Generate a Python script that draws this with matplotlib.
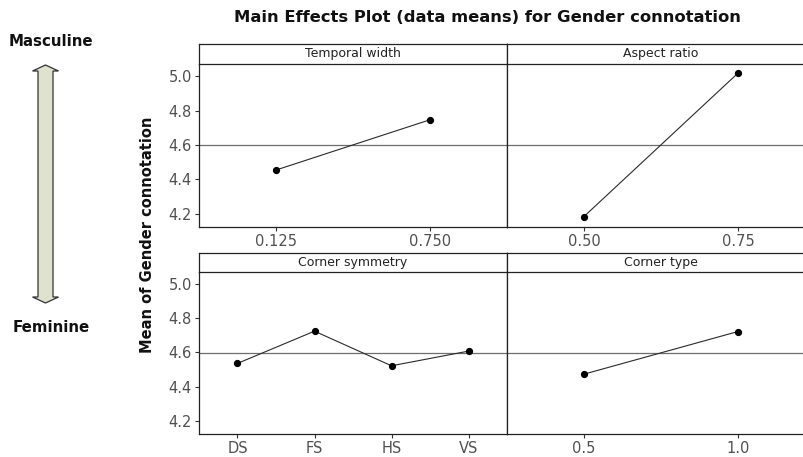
import matplotlib
matplotlib.use('Agg')
import matplotlib.pyplot as plt
from matplotlib.patches import Polygon

# data means
tw_levels = ['0.125', '0.750']
tw_means = [4.454, 4.747]
ar_levels = ['0.50', '0.75']
ar_means = [4.183, 5.019]
cs_levels = ['DS', 'FS', 'HS', 'VS']
cs_means = [4.536, 4.725, 4.522, 4.608]
ct_levels = ['0.5', '1.0']
ct_means = [4.473, 4.723]
grand_mean = 4.598

panels = [
    ('Temporal width', tw_levels, tw_means),
    ('Aspect ratio', ar_levels, ar_means),
    ('Corner symmetry', cs_levels, cs_means),
    ('Corner type', ct_levels, ct_means),
]

W, H = 804, 457
fig = plt.figure(figsize=(W / 100, H / 100), dpi=100)
fig.patch.set_facecolor('white')


def fx(px):
    return px / W


def fy(py):
    return 1 - py / H


# panel geometry in pixels: (top of strip, top of plot, bottom)
rows = [(44, 64, 227), (253, 272, 434)]
cols = [199, 507]
pw = 308
ylim = (4.122, 5.072)

for i, (name, levels, means) in enumerate(panels):
    r, c = divmod(i, 2)
    st, pt, pb = rows[r]
    left = cols[c]
    ax = fig.add_axes([fx(left), fy(pb), fx(pw), (pb - pt) / H])
    xs = list(range(1, len(levels) + 1))
    ax.axhline(grand_mean, color='#6e6e6e', lw=0.9, zorder=1)
    ax.plot(xs, means, color='#2a2a2a', lw=0.8, marker='o', ms=4.2,
            mfc='black', mec='black', zorder=3)
    ax.set_xlim(0.5, len(levels) + 0.5)
    ax.set_ylim(*ylim)
    ax.set_xticks(xs)
    ax.set_xticklabels(levels)
    ax.set_yticks([4.2, 4.4, 4.6, 4.8, 5.0])
    ax.set_yticklabels(['4.2', '4.4', '4.6', '4.8', '5.0'])
    ax.tick_params(axis='both', direction='out', length=3, width=0.8,
                   color='#333333', labelcolor='#505050', labelsize=10.5, pad=2)
    if c == 1:
        ax.tick_params(axis='y', left=False, labelleft=False)
    for s in ax.spines.values():
        s.set_color('#222222')
        s.set_linewidth(0.9)
    ax.spines['top'].set_visible(False)

    # strip with factor name
    sax = fig.add_axes([fx(left), fy(pt), fx(pw), (pt - st) / H])
    sax.set_xticks([])
    sax.set_yticks([])
    for s in sax.spines.values():
        s.set_color('#222222')
        s.set_linewidth(0.9)
    sax.text(0.5, 0.5, name, transform=sax.transAxes, ha='center', va='center',
             fontsize=9, color='#222222')

fig.text(fx(487), fy(18), 'Main Effects Plot (data means) for Gender connotation',
         ha='center', va='center', fontsize=11.8, fontweight='bold', color='#111111')
fig.text(fx(148), fy(235), 'Mean of Gender connotation', rotation=90,
         ha='center', va='center', fontsize=10.5, fontweight='bold', color='#111111')

fig.text(fx(51), fy(42), 'Masculine', ha='center', va='center',
         fontsize=10.8, fontweight='bold', color='#111111')
fig.text(fx(51), fy(327), 'Feminine', ha='center', va='center',
         fontsize=10.8, fontweight='bold', color='#111111')

# double headed arrow between the two labels
cx, top, bot = 45.5, 65, 303
hw, sw, hl = 13, 7.5, 6
pts = [(cx, top), (cx + hw, top + hl), (cx + sw, top + hl), (cx + sw, bot - hl),
       (cx + hw, bot - hl), (cx, bot), (cx - hw, bot - hl), (cx - sw, bot - hl),
       (cx - sw, top + hl), (cx - hw, top + hl)]
arrow = Polygon([(fx(x), fy(y)) for x, y in pts], closed=True,
                transform=fig.transFigure, facecolor='#dfe2cf',
                edgecolor='#333333', lw=0.9)
fig.patches.append(arrow)

fig.savefig('out.png', dpi=100, facecolor='white')
